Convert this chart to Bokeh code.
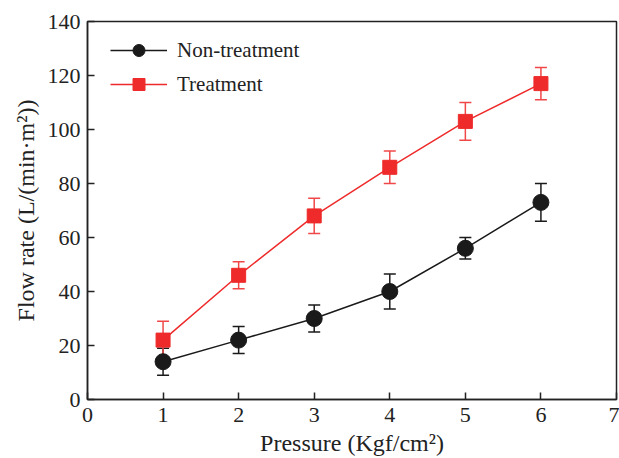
from bokeh.plotting import figure
from bokeh.models import ColumnDataSource, Whisker, TeeHead, Legend, LegendItem, Range1d, FixedTicker
from bokeh.embed import file_html
from bokeh.resources import INLINE

pressure = [1, 2, 3, 4, 5, 6]
non_treat = [14, 22, 30, 40, 56, 73]
non_treat_err = [5, 5, 5, 6.5, 4, 7]
treat = [22, 46, 68, 86, 103, 117]
treat_err = [7, 5, 6.5, 6, 7, 6]
x_ticks = [0, 1, 2, 3, 4, 5, 6, 7]
y_ticks = [0, 20, 40, 60, 80, 100, 120, 140]

FONT = "Liberation Serif"
BLACK = "#1a1a1a"
RED = "#ee2a2a"

p = figure(width=619, height=458, output_backend="svg", toolbar_location=None,
           x_range=Range1d(0, 7), y_range=Range1d(0, 140),
           min_border_left=87, min_border_right=3, min_border_top=21, min_border_bottom=57)
p.xgrid.visible = False
p.ygrid.visible = False
p.outline_line_color = "#222222"
p.outline_line_width = 1.5

for ax in (p.xaxis[0], p.yaxis[0]):
    ax.major_tick_in = 7
    ax.major_tick_out = 0
    ax.minor_tick_line_color = None
    ax.axis_line_width = 1.5
    ax.axis_line_color = "#222222"
    ax.major_tick_line_width = 1.5
    ax.major_tick_line_color = "#222222"
    ax.major_label_text_font = FONT
    ax.major_label_text_font_size = "22px"
    ax.major_label_text_color = "#222222"
    ax.axis_label_text_font = FONT
    ax.axis_label_text_font_size = "24px"
    ax.axis_label_text_font_style = "normal"
    ax.axis_label_text_color = "#222222"

p.xaxis.ticker = FixedTicker(ticks=x_ticks)
p.yaxis.ticker = FixedTicker(ticks=y_ticks)
p.xaxis.axis_label = "Pressure (Kgf/cm²)"
p.yaxis.axis_label = "Flow rate (L/(min·m²))"
p.xaxis.major_label_standoff = 8
p.yaxis.major_label_standoff = 7
p.xaxis.axis_label_standoff = 5
p.yaxis.axis_label_standoff = 6

src_n = ColumnDataSource(dict(x=pressure, y=non_treat,
                              lo=[v - e for v, e in zip(non_treat, non_treat_err)],
                              hi=[v + e for v, e in zip(non_treat, non_treat_err)]))
src_t = ColumnDataSource(dict(x=pressure, y=treat,
                              lo=[v - e for v, e in zip(treat, treat_err)],
                              hi=[v + e for v, e in zip(treat, treat_err)]))

for src, col in ((src_n, BLACK), (src_t, "#f04848")):
    w = Whisker(base="x", upper="hi", lower="lo", source=src, line_color=col, line_width=1.5,
                upper_head=TeeHead(size=12, line_color=col, line_width=1.5),
                lower_head=TeeHead(size=12, line_color=col, line_width=1.5))
    p.add_layout(w)

ln = p.line("x", "y", source=src_n, line_color=BLACK, line_width=1.5)
mn = p.scatter("x", "y", source=src_n, marker="circle", size=16, fill_color=BLACK, line_color=BLACK)
lt = p.line("x", "y", source=src_t, line_color=RED, line_width=1.5)
mt = p.scatter("x", "y", source=src_t, marker="square", size=14, fill_color=RED, line_color=RED)

legend = Legend(items=[LegendItem(label="Non-treatment", renderers=[ln, mn]),
                       LegendItem(label="Treatment", renderers=[lt, mt])],
                location=(23, 300), glyph_width=57, glyph_height=30, spacing=4,
                label_text_font=FONT, label_text_font_size="21px", label_text_color="#222222",
                border_line_color=None, background_fill_alpha=0, padding=8, margin=0,
                label_standoff=10)
p.add_layout(legend)

open("out.html", "w").write(file_html(p, INLINE))
